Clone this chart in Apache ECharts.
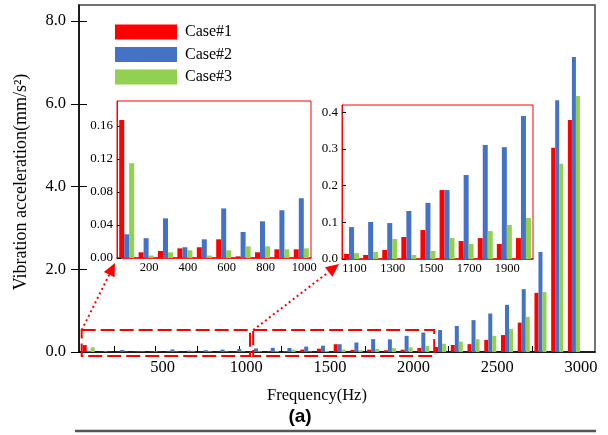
<!DOCTYPE html>
<html>
<head>
<meta charset="utf-8">
<script src="https://cdn.jsdelivr.net/npm/echarts@6/dist/echarts.min.js"></script>
<style>html,body{margin:0;padding:0;background:#fff}#c{width:608px;height:435px}</style>
</head>
<body>
<div id="c"></div>
<script>
// ---- data ----
const freqs = [100,200,300,400,500,600,700,800,900,1000,
               1100,1200,1300,1400,1500,1600,1700,1800,1900,2000,
               2100,2200,2300,2400,2500,2600,2700,2800,2900,3000];
const case1 = [0.167,0.0069,0.0085,0.0117,0.013,0.0226,0.002,0.0069,0.0105,0.0105,
               0.0136,0.011,0.0245,0.060,0.079,0.188,0.049,0.057,0.041,0.057,
               0.097,0.12,0.17,0.19,0.29,0.41,0.71,1.43,4.94,5.61];
const case2 = [0.0287,0.024,0.048,0.013,0.0226,0.060,0.0315,0.0444,0.0578,0.0723,
               0.087,0.101,0.098,0.131,0.153,0.188,0.229,0.311,0.305,0.39,
               0.47,0.53,0.63,0.77,0.93,1.14,1.52,2.42,6.09,7.13];
const case3 = [0.1147,0.003,0.0069,0.0093,0.003,0.0093,0.0141,0.0141,0.0105,0.0117,
               0.016,0.019,0.0545,0.011,0.022,0.057,0.041,0.076,0.093,0.112,
               0.145,0.2,0.25,0.31,0.39,0.56,0.85,1.45,4.55,6.19];
const seriesNames = ['Case#1','Case#2','Case#3'];
const xTickValues = [250,500,750,1000,1250,1500,1750,2000,2250,2500,2750,3000];
const xLabelValues = [500,1000,1500,2000,2500,3000];
const yLabelValues = [0,2,4,6,8];
const inset1YLabels = [0,0.04,0.08,0.12,0.16];
const inset2YLabels = [0,0.1,0.2,0.3,0.4];
// zoom boxes in data units [x0, x1, y0, y1]
const box1 = [58,1064,-0.097,0.53];
const box2 = [1083,2165,-0.097,0.53];

const colors = ['#FF0000','#4472C4','#92D050'];
const allCases = [case1,case2,case3];
const serif = '"Liberation Serif","Times New Roman",serif';

const G0 = {left:79, top:5, width:516, height:347};
const G1 = {left:117, top:101, width:194, height:157};
const G2 = {left:342, top:105, width:191, height:154};

const chart = echarts.init(document.getElementById('c'));

const inset1Cats = freqs.slice(0,10).map(String);
const inset2Cats = freqs.slice(10,20).map(String);

function insetX(idx, cats, pick){
  return {
    type:'category', gridIndex: idx, data: cats, boundaryGap:true,
    axisLine:{show:true, lineStyle:{color:'#FF0000', width:1.5}},
    axisTick:{show:true, inside:true, length:3, alignWithLabel:true, interval: pick, lineStyle:{color:'#000'}},
    axisLabel:{interval: pick, fontFamily:serif, fontSize:12.5, color:'#000', margin:3, padding:[0,0,0,6]},
    splitLine:{show:false}, z:5
  };
}
function insetY(idx, max, vals, dec){
  return {
    type:'value', gridIndex: idx, min:0, max:max,
    axisLine:{show:true, lineStyle:{color:'#FF0000', width:1}},
    axisTick:{show:true, inside:true, length:4, customValues: vals, lineStyle:{color:'#000'}},
    axisLabel:{customValues: vals, formatter: v => v.toFixed(dec), fontFamily:serif, fontSize:13, color:'#000', margin:4},
    splitLine:{show:false}, z:5
  };
}

const series = [];
for (let k=0;k<3;k++){
  series.push({
    name: seriesNames[k], type:'bar', xAxisIndex:0, yAxisIndex:0,
    data: freqs.map((f,i)=>[f, allCases[k][i]]),
    barWidth:4, barGap:'0%', itemStyle:{color:colors[k]}, z:2
  });
}
for (let k=0;k<3;k++){
  series.push({
    name: seriesNames[k], type:'bar', xAxisIndex:1, yAxisIndex:2,
    data: allCases[k].slice(0,10),
    barWidth:5, barGap:'0%', itemStyle:{color:colors[k]}, z:6
  });
}
for (let k=0;k<3;k++){
  series.push({
    name: seriesNames[k], type:'bar', xAxisIndex:2, yAxisIndex:3,
    data: allCases[k].slice(10,20),
    barWidth:5, barGap:'0%', itemStyle:{color:colors[k]}, z:6
  });
}

chart.setOption({
  animation:false,
  backgroundColor:'#fff',
  legend:{
    data: seriesNames, orient:'vertical', left:115, top:24, padding:0,
    itemWidth:62, itemHeight:15, itemGap:6.5, icon:'rect',
    textStyle:{fontFamily:serif, fontSize:16, color:'#000', padding:[0,0,0,3]}
  },
  grid:[
    Object.assign({show:true, borderColor:'#444', borderWidth:1.5, backgroundColor:'transparent', z:0}, G0),
    Object.assign({show:true, borderColor:'#FF0000', borderWidth:1, backgroundColor:'#fff', z:3}, G1),
    Object.assign({show:true, borderColor:'#FF0000', borderWidth:1, backgroundColor:'#fff', z:3}, G2)
  ],
  xAxis:[
    {
      type:'value', gridIndex:0, min:42, max:3126,
      axisLine:{show:true, lineStyle:{color:'#000', width:1.5}},
      axisTick:{show:true, inside:true, length:6, customValues:xTickValues, lineStyle:{color:'#000'}},
      axisLabel:{customValues:xLabelValues, formatter: v => String(v), fontFamily:serif, fontSize:16.5, color:'#000', margin:7, padding:[0,0,0,14]},
      splitLine:{show:false}
    },
    insetX(1, inset1Cats, (i)=> i%2===1),
    insetX(2, inset2Cats, (i)=> i%2===0)
  ],
  yAxis:[
    {
      type:'value', gridIndex:0, min:0, max:8.39, position:'left',
      axisLine:{show:true, lineStyle:{color:'#000', width:1.5}},
      axisTick:{show:true, inside:false, length:8, customValues:yLabelValues, lineStyle:{color:'#000'}},
      axisLabel:{customValues:yLabelValues, formatter: v => v.toFixed(1), fontFamily:serif, fontSize:16.5, color:'#000', margin:13},
      splitLine:{show:false}
    },
    {
      type:'value', gridIndex:0, min:0, max:8.39, position:'left', offset:0,
      axisLine:{show:false},
      axisTick:{show:true, inside:true, length:8, customValues:yLabelValues, lineStyle:{color:'#000'}},
      axisLabel:{show:false},
      splitLine:{show:false}
    },
    insetY(1, 0.19, inset1YLabels, 2),
    insetY(2, 0.42, inset2YLabels, 1)
  ],
  series: series
});

// ---- annotations built from data coordinates ----
function px(x,y){ return chart.convertToPixel({gridIndex:0}, [x,y]); }
function boxRect(b){
  const p0 = px(b[0], b[3]);
  const p1 = px(b[1], b[2]);
  return {type:'rect', shape:{x:p0[0], y:p0[1], width:p1[0]-p0[0], height:p1[1]-p0[1]},
          style:{fill:'transparent', stroke:'#FF0000', lineWidth:2, lineDash:[14,5]}, z:20, silent:true};
}
function arrow(from, tip){
  const dx = tip[0]-from[0], dy = tip[1]-from[1];
  const L = Math.sqrt(dx*dx+dy*dy), ux = dx/L, uy = dy/L;
  const hl = 13, hw = 6;
  const base = [tip[0]-ux*hl, tip[1]-uy*hl];
  return [
    {type:'line', shape:{x1:from[0], y1:from[1], x2:base[0], y2:base[1]},
     style:{stroke:'#FF0000', lineWidth:2, lineDash:[2,3]}, z:20, silent:true},
    {type:'polygon', shape:{points:[tip, [base[0]-uy*hw, base[1]+ux*hw], [base[0]+uy*hw, base[1]-ux*hw]]},
     style:{fill:'#FF0000'}, z:20, silent:true}
  ];
}
const b1tl = px(box1[0], box1[3]);
const b2tl = px(box2[0], box2[3]);
const tip1 = [G1.left-2, G1.top+G1.height+5];
const tip2 = [G2.left-3, G2.top+G2.height+5];

chart.setOption({
  graphic:[
    boxRect(box1), boxRect(box2),
    ...arrow(b1tl, tip1), ...arrow(b2tl, tip2),
    {type:'text', x:21, y:182, rotation:Math.PI/2,
     style:{text:'Vibration acceleration(mm/s²)', font:'18px '+serif, fill:'#000', align:'center', verticalAlign:'middle'}, z:20},
    {type:'text', x:317, y:396,
     style:{text:'Frequency(Hz)', font:'16.5px '+serif, fill:'#000', align:'center', verticalAlign:'middle'}, z:20},
    {type:'text', x:300, y:417,
     style:{text:'(a)', font:'bold 19px "Liberation Sans", Arial, sans-serif', fill:'#000', align:'center', verticalAlign:'middle'}, z:20},
    {type:'line', shape:{x1:75, y1:431, x2:596, y2:431}, style:{stroke:'#555', lineWidth:2.5}, z:20}
  ]
});
</script>
</body>
</html>
